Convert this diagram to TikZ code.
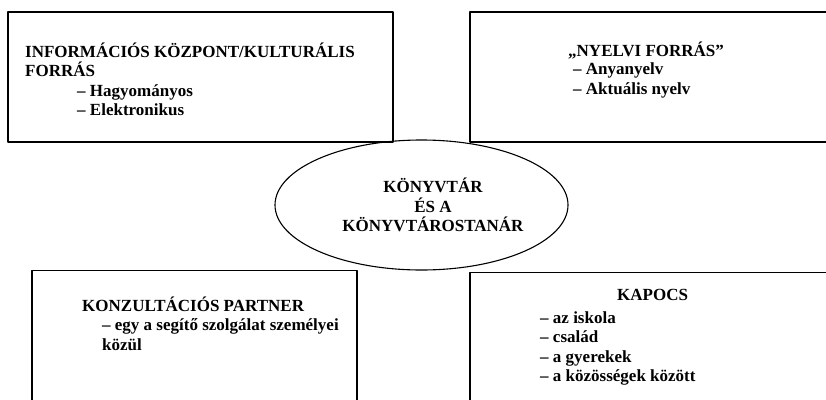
\documentclass[tikz,border=0pt]{standalone}
\usepackage{fontspec}
\setmainfont{Liberation Serif}

\begin{document}
\begin{tikzpicture}[x=1pt,y=-1pt,line cap=round,line join=round,
  every node/.style={font=\bfseries\fontsize{17}{19.5}\selectfont,inner sep=0pt,align=left,anchor=base west},
  doboz/.style={line width=1.6pt}]
\useasboundingbox (0,0) rectangle (826,399);
\clip (0,0) rectangle (826,399);
% dobozok
\draw [doboz] (8,12) rectangle (393,142);
\draw [doboz] (470,12) rectangle (840,142);
\draw [doboz] (32,270.5) rectangle (357,420);
\draw [doboz] (470,272.5) rectangle (840,420);
\draw [line width=1.1pt] (421.5,205) ellipse [x radius=146.5, y radius=65];
% szovegek (az also sor alapvonalan)
\node (infocim) at (25,76.5) {INFORMÁCIÓS KÖZPONT/KULTURÁLIS\\FORRÁS};
\node (infolista) at (77,115.7) {– Hagyományos\\– Elektronikus};
\node (nyelvcim) at (568,56.7) {„NYELVI FORRÁS”};
\node (nyelvlista) at (573,94.3) {– Anyanyelv\\– Aktuális nyelv};
\node (kozep) [align=center,anchor=base] at (433,231.7) {KÖNYVTÁR\\ÉS A\\KÖNYVTÁROSTANÁR};
\node (partnercim) at (82,311.7) {KONZULTÁCIÓS PARTNER};
\node (partnerlista) at (102,350) {– egy a segítő szolgálat személyei\\közül};
\node (kapocscim) at (617,300) {KAPOCS};
\node (kapocslista) at (540,381.7) {– az iskola\\– család\\– a gyerekek\\– a közösségek között};
\end{tikzpicture}
\end{document}
